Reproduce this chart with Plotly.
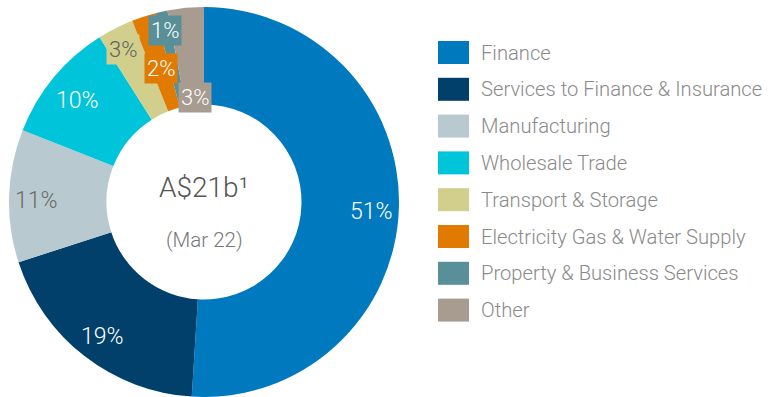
import plotly.graph_objects as go

# Industry exposure split (per cent of A$21b)
categories = [
    "Finance",
    "Services to Finance & Insurance",
    "Manufacturing",
    "Wholesale Trade",
    "Transport & Storage",
    "Electricity Gas & Water Supply",
    "Property & Business Services",
    "Other",
]
shares = [51, 19, 11, 10, 3, 2, 1, 3]
centre_title = "A$21b\u00b9"
centre_subtitle = "(Mar 22)"

colors = ["#0079BE", "#00406A", "#B8C9D0", "#00C4D9",
          "#D2CE8C", "#E07A00", "#588F98", "#A89B8F"]
label_font_colors = ["white", "white", "#6a6a6a", "white",
                     "#5f5f5f", "white", "white", "white"]
# label boxes carry the slice colour for the thin slices only
label_boxed = [False, False, False, False, True, True, True, True]
# label centres in pixels
label_xy = [(371, 211), (102, 336), (36, 200), (77, 100),
            (123, 50), (161, 68), (165, 30), (195, 97)]
label_size = [23, 23, 23, 23, 22, 22, 22, 22]

W, H = 769, 397
cx, cy, R = 204, 202, 195
FONT = "Roboto"

fig = go.Figure(go.Pie(
    labels=categories,
    values=shares,
    marker=dict(colors=colors, line=dict(width=0)),
    hole=0.5,
    sort=False,
    direction="clockwise",
    rotation=0,
    textinfo="none",
    hoverinfo="label+percent",
    showlegend=False,
    domain=dict(x=[(cx - R) / W, (cx + R) / W],
                y=[(H - cy - R) / H, (H - cy + R) / H]),
))

def px(x, y):
    return x / W, 1 - y / H

annotations = []
total = sum(shares)
for i, v in enumerate(shares):
    x, y = px(*label_xy[i])
    pct = round(100 * v / total)
    annotations.append(dict(
        x=x, y=y, xref="paper", yref="paper", showarrow=False,
        xanchor="center", yanchor="middle",
        text=f"{pct}%",
        font=dict(family=FONT, size=label_size[i], color=label_font_colors[i], weight=300),
        bgcolor=colors[i] if label_boxed[i] else None,
        borderpad=2,
    ))

# centre text
x, y = px(cx, 187)
annotations.append(dict(x=x, y=y, xref="paper", yref="paper", showarrow=False,
                        xanchor="center", yanchor="middle",
                        text=centre_title,
                        font=dict(family=FONT, size=28, color="#555555", weight=300)))
x, y = px(cx, 240)
annotations.append(dict(x=x, y=y, xref="paper", yref="paper", showarrow=False,
                        xanchor="center", yanchor="middle",
                        text=centre_subtitle,
                        font=dict(family=FONT, size=20.5, color="#777777", weight=300)))

# legend: colour swatches with category names
shapes = []
row0, row_step = 52.5, 36.8
for i, name in enumerate(categories):
    yc = row0 + i * row_step
    x0, y0 = px(438, yc - 11.5)
    x1, y1 = px(469, yc + 11.5)
    shapes.append(dict(type="rect", xref="paper", yref="paper",
                       x0=x0, x1=x1, y0=y1, y1=y0,
                       fillcolor=colors[i], line=dict(width=0)))
    tx, ty = px(479, yc)
    annotations.append(dict(x=tx, y=ty, xref="paper", yref="paper", showarrow=False,
                            xanchor="left", yanchor="middle", text=name,
                            font=dict(family=FONT, size=20.2, color="#8a8a8a", weight=300)))

fig.update_layout(
    width=W, height=H,
    margin=dict(l=0, r=0, t=0, b=0),
    paper_bgcolor="white",
    plot_bgcolor="white",
    annotations=annotations,
    shapes=shapes,
)

fig.write_html("out.html")
